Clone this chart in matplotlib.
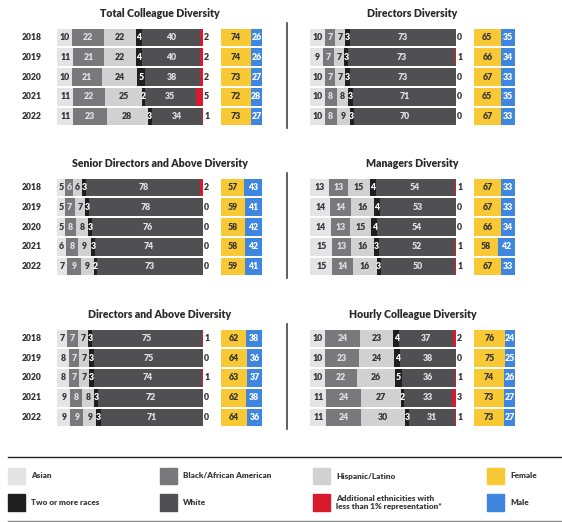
import numpy as np
import matplotlib
matplotlib.use("Agg")
import matplotlib.pyplot as plt
from matplotlib.patches import Rectangle
from matplotlib.lines import Line2D

plt.rcParams['font.family'] = ['Lato', 'DejaVu Sans']

W, H = 562, 522

years = ['2018', '2019', '2020', '2021', '2022']
ethnic_names = ['Asian', 'Black/African American', 'Hispanic/Latino',
                'Two or more races', 'White',
                'Additional ethnicities with\nless than 1% representation*']
gender_names = ['Female', 'Male']

# ethnicity per year: Asian, Black, Hispanic, Two+, White, Additional
total_eth = [[10, 22, 22, 4, 40, 2], [11, 21, 22, 4, 40, 2], [10, 21, 24, 5, 38, 2],
             [11, 22, 25, 2, 35, 5], [11, 23, 28, 3, 34, 1]]
directors_eth = [[10, 7, 7, 3, 73, 0], [9, 7, 7, 3, 73, 1], [10, 7, 7, 3, 73, 0],
                 [10, 8, 8, 3, 71, 0], [10, 8, 9, 3, 70, 0]]
senior_eth = [[5, 6, 6, 3, 78, 2], [5, 7, 7, 3, 78, 0], [5, 8, 8, 3, 76, 0],
              [6, 8, 9, 3, 74, 0], [7, 9, 9, 2, 73, 0]]
managers_eth = [[13, 13, 15, 4, 54, 1], [14, 14, 16, 4, 53, 0], [14, 13, 15, 4, 54, 0],
                [15, 13, 16, 3, 52, 1], [15, 14, 16, 3, 50, 1]]
dir_above_eth = [[7, 7, 7, 3, 75, 1], [8, 7, 7, 3, 75, 0], [8, 7, 7, 3, 74, 1],
                 [9, 8, 8, 3, 72, 0], [9, 9, 9, 3, 71, 0]]
hourly_eth = [[10, 24, 23, 4, 37, 2], [10, 23, 24, 4, 38, 0], [10, 22, 26, 5, 36, 1],
              [11, 24, 27, 2, 33, 3], [11, 24, 30, 3, 31, 1]]

# gender per year: Female, Male
total_gen = [[74, 26], [74, 26], [73, 27], [72, 28], [73, 27]]
directors_gen = [[65, 35], [66, 34], [67, 33], [65, 35], [67, 33]]
senior_gen = [[57, 43], [59, 41], [58, 42], [58, 42], [59, 41]]
managers_gen = [[67, 33], [67, 33], [66, 34], [58, 42], [67, 33]]
dir_above_gen = [[62, 38], [64, 36], [63, 37], [62, 38], [64, 36]]
hourly_gen = [[76, 24], [75, 25], [74, 26], [73, 27], [73, 27]]

titles = ['Total Colleague Diversity', 'Directors Diversity',
          'Senior Directors and Above Diversity', 'Managers Diversity',
          'Directors and Above Diversity', 'Hourly Colleague Diversity']
panels_eth = [total_eth, directors_eth, senior_eth, managers_eth, dir_above_eth, hourly_eth]
panels_gen = [total_gen, directors_gen, senior_gen, managers_gen, dir_above_gen, hourly_gen]

eth_colors = ['#e4e4e6', '#79797b', '#d1d1d2', '#1f1f1f', '#505052', '#d81b2c']
eth_text = ['#333333', '#e2e2e2', '#333333', '#ffffff', '#e2e2e2', '#333333']
gen_colors = ['#f8c935', '#3f86e0']
gen_text = ['#333333', '#ffffff']

fig = plt.figure(figsize=(W / 100, H / 100), dpi=100)


def fx(px):
    return px / W


def fy(py):
    return 1 - py / H


def px_axes(x0, x1, yc0, step=19.85, n=5):
    top = yc0 - step / 2
    bot = yc0 + (n - 1) * step + step / 2
    ax = fig.add_axes([fx(x0), fy(bot), (x1 - x0) / W, (bot - top) / H])
    ax.set_ylim(n - 0.5, -0.5)
    ax.set_xlim(0, 100)
    ax.axis('off')
    return ax


col_off = [0, 253]
row_off = [0, 150, 301]
bar_h = 0.875
fs = 6.3
wt = 'heavy'

for k in range(6):
    c, r = k % 2, k // 2
    xo, yo = col_off[c], row_off[r]
    eth = np.array(panels_eth[k], dtype=float)
    gen = np.array(panels_gen[k], dtype=float)
    y = np.arange(len(years))

    fig.text(fx(159.5 + xo), fy(13.5 + yo), titles[k], ha='center', va='center',
             fontsize=7.6, fontweight=wt, color='#2a2a2a')

    ax = px_axes(57.3 + xo, 203 + xo, 37.3 + yo)
    totals = eth.sum(axis=1)
    widths = eth / totals[:, None] * 100
    lefts = np.cumsum(widths, axis=1) - widths
    for j in range(eth.shape[1]):
        ax.barh(y, widths[:, j], left=lefts[:, j], height=bar_h,
                color=eth_colors[j], linewidth=0)
        for i in y:
            val = int(eth[i, j])
            if j == 5:
                ax.text(100.8, i, str(val), ha='left', va='center', fontsize=fs,
                        fontweight=wt, color=eth_text[j], clip_on=False)
            else:
                ax.text(lefts[i, j] + widths[i, j] / 2, i, str(val), ha='center',
                        va='center', fontsize=fs, fontweight=wt, color=eth_text[j])
    if c == 0:
        for i in y:
            ax.text(-24.5, i, years[i], ha='left', va='center', fontsize=6.2,
                    fontweight=wt, color='#333333', clip_on=False)
    else:
        fig.add_artist(Line2D([fx(287), fx(287)], [fy(23 + yo), fy(128 + yo)],
                              color='#444444', lw=1.2))

    gx = px_axes(221 + xo, 262 + xo, 37.3 + yo)
    glefts = np.cumsum(gen, axis=1) - gen
    for j in range(2):
        gx.barh(y, gen[:, j], left=glefts[:, j], height=bar_h,
                color=gen_colors[j], linewidth=0)
        for i in y:
            gx.text(glefts[i, j] + gen[i, j] / 2, i, str(int(gen[i, j])), ha='center',
                    va='center', fontsize=fs, fontweight=wt, color=gen_text[j])

# legend
fig.add_artist(Line2D([fx(8), fx(561)], [fy(457), fy(457)], color='#222222', lw=1))
fig.add_artist(Line2D([fx(8), fx(561)], [fy(520.5), fy(520.5)], color='#888888', lw=1))

leg_items = [(ethnic_names[0], eth_colors[0]), (ethnic_names[3], eth_colors[3]),
             (ethnic_names[1], eth_colors[1]), (ethnic_names[4], eth_colors[4]),
             (ethnic_names[2], eth_colors[2]), (ethnic_names[5], eth_colors[5]),
             (gender_names[0], gen_colors[0]), (gender_names[1], gen_colors[1])]
sw_x = [8, 160, 313, 487]
row_y = [476, 502.5]
for n, (label, color) in enumerate(leg_items):
    cx, ry = sw_x[n // 2], row_y[n % 2]
    fig.add_artist(Rectangle((fx(cx), fy(ry + 8)), 17 / W, 16.5 / H, color=color,
                             transform=fig.transFigure))
    fig.text(fx(cx + 23), fy(ry), label, ha='left', va='center', fontsize=5.9,
             fontweight=wt, color='#3a3a3a', linespacing=1.1)

fig.savefig('out.png', dpi=100)
